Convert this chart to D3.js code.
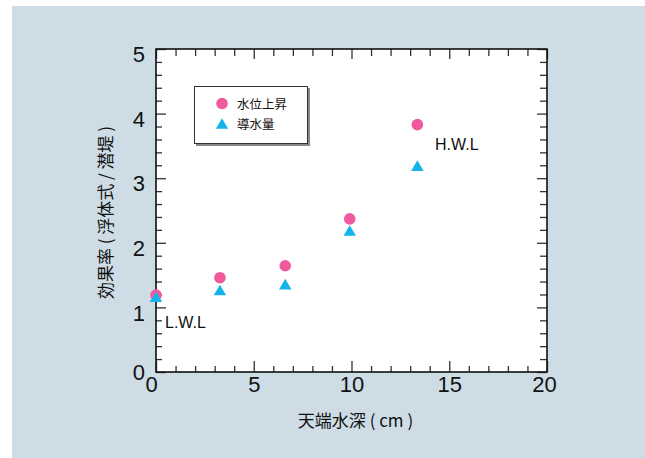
<!DOCTYPE html>
<html>
<head>
<meta charset="utf-8">
<script src="https://cdn.jsdelivr.net/npm/d3@7"></script>
<style>
  body { margin: 0; background: #fff; }
  svg text { font-family: "Liberation Sans", Arial, sans-serif; fill: #111; }
  .jp { font-family: "Noto Sans CJK JP", sans-serif; }
</style>
</head>
<body>
<div id="chart"></div>
<script>
// data
const depth = [0, 3.27, 6.61, 9.91, 13.37];        // 天端水深 (cm)
const riseRatio = [1.19, 1.46, 1.645, 2.37, 3.83]; // 水位上昇
const flowRatio = [1.165, 1.27, 1.36, 2.19, 3.195]; // 導水量
const seriesNames = ["水位上昇", "導水量"];
const xMajor = [0, 5, 10, 15, 20];
const yMajor = [0, 1, 2, 3, 4, 5];

const svgWidth = 645;
const svgHeight = 458;

const svg = d3.select("#chart")
  .append("svg")
  .attr("width", svgWidth)
  .attr("height", svgHeight);

// light blue panel
svg.append("rect")
  .attr("x", 12).attr("y", 6)
  .attr("width", svgWidth - 12).attr("height", svgHeight - 6)
  .attr("fill", "#cddce5");

const x = d3.scaleLinear().domain([0, 20]).range([156, 547]);
const y = d3.scaleLinear().domain([0, 5]).range([372, 49]);

// plot area
svg.append("rect")
  .attr("x", x(0)).attr("y", y(5))
  .attr("width", x(20) - x(0)).attr("height", y(0) - y(5))
  .attr("fill", "#fff");

const xMinor = d3.range(1, 20).filter(v => v % 5 !== 0);
const yMinor = d3.range(1, 25).map(v => v / 5).filter(v => !Number.isInteger(v));

function styleTicks(g) {
  g.select(".domain").remove();
  g.selectAll(".tick line").attr("stroke", "#333").attr("stroke-width", 1.3);
}

// bottom
svg.append("g")
  .attr("transform", `translate(0,${y(0)})`)
  .call(d3.axisBottom(x).tickValues(xMinor).tickSize(-6).tickFormat(""))
  .call(styleTicks);
const xAxis = svg.append("g")
  .attr("transform", `translate(0,${y(0)})`)
  .call(d3.axisBottom(x).tickValues(xMajor).tickSize(-11).tickPadding(4).tickFormat(d3.format("d")))
  .call(styleTicks);
xAxis.selectAll("text")
  .style("font-size", "22px")
  .attr("dx", d => d === 0 ? -5 : (d === 20 ? -3 : 0));

// top
svg.append("g")
  .attr("transform", `translate(0,${y(5)})`)
  .call(d3.axisTop(x).tickValues(xMinor).tickSize(-7).tickFormat(""))
  .call(styleTicks);
svg.append("g")
  .attr("transform", `translate(0,${y(5)})`)
  .call(d3.axisTop(x).tickValues(xMajor).tickSize(-10).tickFormat(""))
  .call(styleTicks);

// left
svg.append("g")
  .attr("transform", `translate(${x(0)},0)`)
  .call(d3.axisLeft(y).tickValues(yMinor).tickSize(-6).tickFormat(""))
  .call(styleTicks);
const yAxis = svg.append("g")
  .attr("transform", `translate(${x(0)},0)`)
  .call(d3.axisLeft(y).tickValues(yMajor).tickSize(-10).tickPadding(11).tickFormat(d3.format("d")))
  .call(styleTicks);
yAxis.selectAll("text")
  .style("font-size", "22px")
  .attr("dy", d => d === 0 ? "0.34em" : "0.58em");

// right
svg.append("g")
  .attr("transform", `translate(${x(20)},0)`)
  .call(d3.axisRight(y).tickValues(yMinor).tickSize(-7).tickFormat(""))
  .call(styleTicks);
svg.append("g")
  .attr("transform", `translate(${x(20)},0)`)
  .call(d3.axisRight(y).tickValues(yMajor).tickSize(-10).tickFormat(""))
  .call(styleTicks);

// frame
svg.append("rect")
  .attr("x", x(0)).attr("y", y(5))
  .attr("width", x(20) - x(0)).attr("height", y(0) - y(5))
  .attr("fill", "none")
  .attr("stroke", "#111")
  .attr("stroke-width", 1.6);

// markers
const pink = "#f0599c";
const cyan = "#14b4ea";
const tri = (cx, cy) => `M${cx},${cy - 5.3}L${cx + 6.2},${cy + 5.3}L${cx - 6.2},${cy + 5.3}Z`;

svg.append("g").selectAll("circle")
  .data(depth)
  .enter()
  .append("circle")
  .attr("cx", (d, i) => x(d))
  .attr("cy", (d, i) => y(riseRatio[i]))
  .attr("r", 5.8)
  .attr("fill", pink);

svg.append("g").selectAll("path")
  .data(depth)
  .enter()
  .append("path")
  .attr("d", (d, i) => tri(x(d), y(flowRatio[i])))
  .attr("fill", cyan);

// level labels
svg.append("text")
  .attr("x", 435).attr("y", 150)
  .style("font-size", "16px")
  .text("H.W.L");
svg.append("text")
  .attr("x", 165).attr("y", 328)
  .style("font-size", "16px")
  .text("L.W.L");

// legend
svg.append("rect")
  .attr("x", 196).attr("y", 88)
  .attr("width", 114).attr("height", 58)
  .attr("fill", "#888");
svg.append("rect")
  .attr("x", 194.5).attr("y", 86.5)
  .attr("width", 113).attr("height", 57)
  .attr("fill", "#fff")
  .attr("stroke", "#333")
  .attr("stroke-width", 1);
svg.append("circle")
  .attr("cx", 222).attr("cy", 103.5).attr("r", 5.8).attr("fill", pink);
svg.append("path")
  .attr("d", tri(222, 123.5)).attr("fill", cyan);
svg.selectAll(".legtext")
  .data(seriesNames)
  .enter()
  .append("text")
  .attr("class", "jp")
  .attr("x", 237)
  .attr("y", (d, i) => 108.5 + i * 20)
  .style("font-size", "12.5px")
  .text(d => d);

// axis titles
svg.append("text")
  .attr("class", "jp")
  .attr("x", (x(0) + x(20)) / 2 + 4)
  .attr("y", 427)
  .attr("text-anchor", "middle")
  .style("font-size", "17px")
  .style("white-space", "pre")
  .text("天端水深 ( cm )");

svg.append("text")
  .attr("class", "jp")
  .attr("transform", `translate(112,${(y(0) + y(5)) / 2 + 2}) rotate(-90)`)
  .attr("text-anchor", "middle")
  .style("font-size", "17px")
  .style("white-space", "pre")
  .text("効果率 ( 浮体式 / 潜堤 )");
</script>
</body>
</html>
